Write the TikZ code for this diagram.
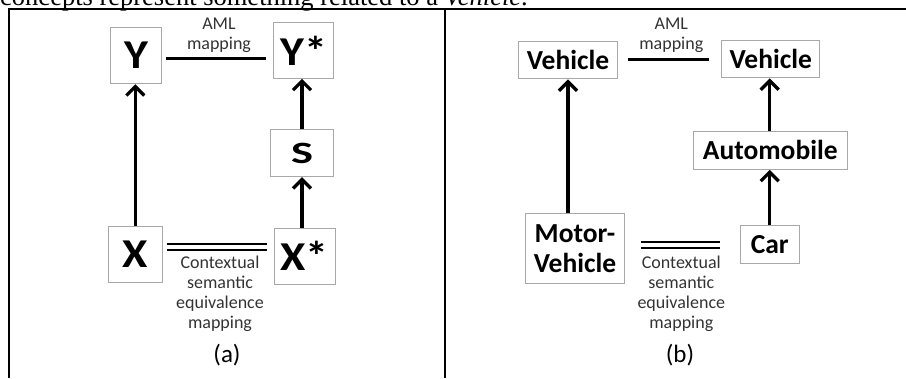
\documentclass[tikz,border=0pt]{standalone}
\usepackage{fontspec}
\setmainfont{Carlito}
\newfontfamily\bodyserif{Liberation Serif}
\usetikzlibrary{arrows.meta}
\definecolor{boxgray}{HTML}{A8A8A8}
\definecolor{labelgray}{HTML}{333333}
\newcommand{\widetag}[1]{\scalebox{1.12}[1]{#1}}
\tikzset{
  concept/.style={draw=boxgray, line width=1pt, inner sep=0pt, font=\bfseries},
  bigtag/.style={font=\fontsize{41}{41}\selectfont\bfseries},
  stag/.style={font=\fontsize{31}{31}\selectfont\bfseries},
  midtag/.style={font=\fontsize{27.5}{30}\selectfont\bfseries},
  isa/.style={line width=3.3pt, -{Straight Barb[length=9pt,width=18pt]}},
  amlline/.style={line width=2.6pt},
  equivline/.style={line width=2pt, double distance=4.3pt},
  note/.style={align=center, text=labelgray, inner sep=0pt, font=\fontsize{18}{20}\selectfont},
  caption/.style={inner sep=0pt, font=\fontsize{25}{25}\selectfont},
  frame/.style={line width=2pt}
}
\begin{document}
\begin{tikzpicture}[x=1pt,y=-1pt]
\useasboundingbox (0,0) rectangle (906,378);
\clip (0,0) rectangle (906,378);

% running text of the page, cut by the top edge
\node[anchor=base east, inner sep=0pt, font=\bodyserif\fontsize{26.5}{30}\selectfont] (pagetext) at (528,5)
  {concepts represent something related to a \textit{Vehicle}.};

% table frame
\draw[frame] (8,9) -- (906,9);
\draw[frame] (9,8) -- (9,378);
\draw[frame] (445,8) -- (445,378);

% ---------- (a) ----------
\node[concept, bigtag, minimum width=50.6pt, minimum height=56pt] (Y) at (136,55.7) {\widetag{Y}};
\node[concept, bigtag, minimum width=60.4pt, minimum height=55.6pt] (Ys) at (303.5,50.5) {\widetag{Y*}};
\node[concept, stag, minimum width=63.4pt, minimum height=46.7pt] (S) at (302,153.3) {\scalebox{1.5}[1]{S}};
\node[concept, bigtag, minimum width=54pt, minimum height=56pt] (X) at (135.3,254) {\widetag{X}};
\node[concept, bigtag, minimum width=61.3pt, minimum height=55.7pt] (Xs) at (304.7,256.2) {\widetag{X*}};

\draw[isa] (X.north) -- (X.north |- Y.south);
\draw[isa] (S.north) -- (S.north |- Ys.south);
\draw[isa] (S.south |- Xs.north) -- (S.south);

\coordinate (amlA1) at (166,58.7);
\coordinate (amlA2) at (266,58.7);
\draw[amlline] (amlA1) -- (amlA2);
\node[note] (amlA) at (219,35) {AML\\mapping};

\coordinate (eqA1) at (166.7,247.3);
\coordinate (eqA2) at (266.7,247.3);
\draw[equivline] (eqA1) -- (eqA2);
\node[note] (ctxA) at (220,294) {Contextual\\semantic\\equivalence\\mapping};

\node[caption] (capA) at (227,355) {(a)};

% ---------- (b) ----------
\node[concept, midtag, minimum width=98.6pt, minimum height=37.3pt] (V1) at (568,60.3) {Vehicle};
\node[concept, midtag, minimum width=97.7pt, minimum height=37.3pt] (V2) at (770.8,59.3) {Vehicle};
\node[concept, midtag, minimum width=154.3pt, minimum height=38.3pt] (Auto) at (770.2,150.2) {Automobile};
\node[concept, midtag, minimum width=58.7pt, minimum height=38.3pt] (Car) at (769.7,244.8) {Car};
\node[concept, midtag, align=center, minimum width=99.4pt, minimum height=70pt] (MV) at (575,248.3) {Motor-\\Vehicle};

\draw[isa] (MV.north -| V1.south) -- (V1.south);
\draw[isa] (Auto.north -| Car.north) -- (Car.north |- V2.south);
\draw[isa] (Car.north) -- (Car.north |- Auto.south);

\coordinate (amlB1) at (628,59.3);
\coordinate (amlB2) at (708.7,59.3);
\draw[amlline] (amlB1) -- (amlB2);
\node[note] (amlB) at (671.3,35.5) {AML\\mapping};

\coordinate (eqB1) at (641.3,245.3);
\coordinate (eqB2) at (719.5,245.3);
\draw[equivline] (eqB1) -- (eqB2);
\node[note] (ctxB) at (681.3,294) {Contextual\\semantic\\equivalence\\mapping};

\node[caption] (capB) at (680,355) {(b)};
\end{tikzpicture}
\end{document}
